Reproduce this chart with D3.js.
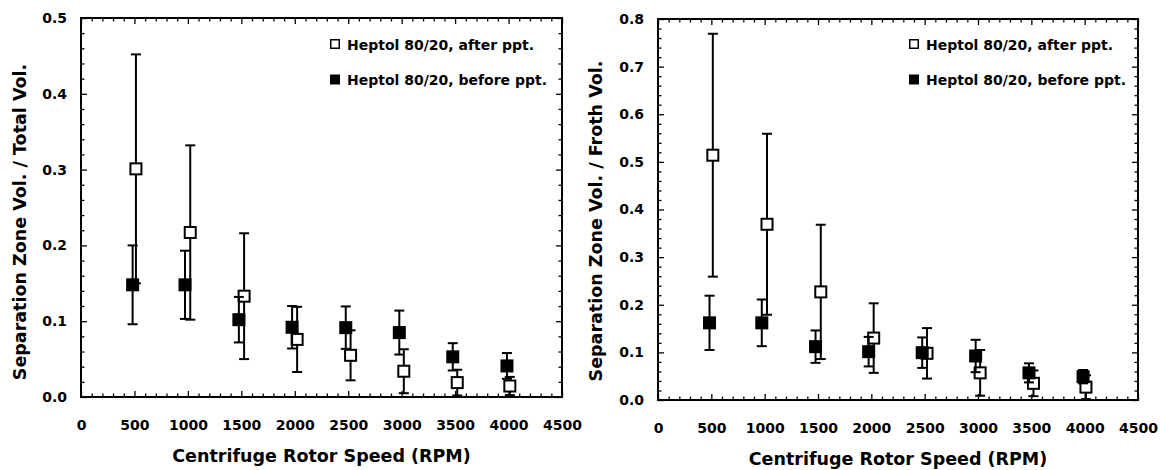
<!DOCTYPE html>
<html>
<head>
<meta charset="utf-8">
<script src="https://cdn.jsdelivr.net/npm/d3@7"></script>
<style>
  html, body { margin: 0; padding: 0; background: #fff; }
  svg text { font-family: "DejaVu Sans", sans-serif; font-weight: bold; fill: #000; }
</style>
</head>
<body>
<svg id="chart" width="1160" height="470"></svg>
<script>
// ---- Data ----
const xTicks = [0, 500, 1000, 1500, 2000, 2500, 3000, 3500, 4000, 4500];
const seriesNames = ["Heptol 80/20, after ppt.", "Heptol 80/20, before ppt."];

// rotor speeds as plotted (markers are slightly offset around the nominal speeds)
const speedAfter  = [514, 1022, 1526, 2022, 2522, 3020, 3520, 4012];
const speedBefore = [483, 973, 1477, 1975, 2477, 2978, 3478, 3985];

// Left panel: Separation Zone Vol. / Total Vol.
const totalAfter     = [0.301, 0.217, 0.133, 0.076, 0.055, 0.034, 0.019, 0.0145];
const totalAfterErr  = [0.151, 0.115, 0.083, 0.043, 0.033, 0.029, 0.017, 0.012];
const totalBefore    = [0.148, 0.148, 0.102, 0.092, 0.0915, 0.085, 0.053, 0.041];
const totalBeforeErr = [0.052, 0.045, 0.030, 0.028, 0.028, 0.029, 0.018, 0.017];
const totalYTicks    = [0.0, 0.1, 0.2, 0.3, 0.4, 0.5];

// Right panel: Separation Zone Vol. / Froth Vol.
const frothAfter     = [0.514, 0.369, 0.227, 0.130, 0.098, 0.057, 0.035, 0.027];
const frothAfterErr  = [0.255, 0.190, 0.141, 0.073, 0.053, 0.048, 0.027, 0.025];
const frothBefore    = [0.162, 0.162, 0.112, 0.1015, 0.0994, 0.0924, 0.057, 0.049];
const frothBeforeErr = [0.057, 0.049, 0.034, 0.031, 0.032, 0.034, 0.020, 0.014];
const frothYTicks    = [0.0, 0.1, 0.2, 0.3, 0.4, 0.5, 0.6, 0.7, 0.8];

const xTitle = "Centrifuge Rotor Speed (RPM)";

// ---- Layout ----
const panels = [
  { left: 81, top: 18, right: 562, bottom: 397, yMax: 0.5, yTicks: totalYTicks,
    yTitle: "Separation Zone Vol. / Total Vol.", yTitleX: 26, yTitleY: 222,
    after: totalAfter, afterErr: totalAfterErr, before: totalBefore, beforeErr: totalBeforeErr,
    legendX: 330, legendY: 44 },
  { left: 658, top: 19, right: 1138, bottom: 400, yMax: 0.8, yTicks: frothYTicks,
    yTitle: "Separation Zone Vol. / Froth Vol.", yTitleX: 602, yTitleY: 221,
    after: frothAfter, afterErr: frothAfterErr, before: frothBefore, beforeErr: frothBeforeErr,
    legendX: 909, legendY: 44 }
];

const svg = d3.select("#chart");
const MAJ = 6, MIN = 3.5, MARK = 13, CAP = 5;

panels.forEach(p => {
  const x = d3.scaleLinear().domain([0, 4500]).range([p.left, p.right]);
  const y = d3.scaleLinear().domain([0, p.yMax]).range([p.bottom, p.top]);
  const g = svg.append("g");

  const xMinor = d3.range(0, 4501, 100).filter(v => v % 500 !== 0);
  const yMinor = d3.range(0, Math.round(p.yMax / 0.02) + 1).map(i => +(i * 0.02).toFixed(2))
                  .filter(v => Math.abs(v * 10 - Math.round(v * 10)) > 1e-6);

  function styleAxis(sel) {
    sel.select(".domain").remove();
    sel.selectAll(".tick line").attr("stroke", "#000").attr("stroke-width", 1.3);
    sel.selectAll("text").style("font-size", "14px").attr("fill", "#000");
  }

  // bottom axis (major with labels)
  g.append("g").attr("transform", `translate(0,${p.bottom})`)
    .call(d3.axisBottom(x).tickValues(xTicks).tickSize(-MAJ).tickPadding(23).tickFormat(d3.format("d")))
    .call(styleAxis);
  g.append("g").attr("transform", `translate(0,${p.bottom})`)
    .call(d3.axisBottom(x).tickValues(xMinor).tickSize(-MIN).tickFormat(""))
    .call(styleAxis);
  // top axis
  g.append("g").attr("transform", `translate(0,${p.top})`)
    .call(d3.axisTop(x).tickValues(xTicks).tickSize(-MAJ).tickFormat(""))
    .call(styleAxis);
  g.append("g").attr("transform", `translate(0,${p.top})`)
    .call(d3.axisTop(x).tickValues(xMinor).tickSize(-MIN).tickFormat(""))
    .call(styleAxis);
  // left axis
  g.append("g").attr("transform", `translate(${p.left},0)`)
    .call(d3.axisLeft(y).tickValues(p.yTicks).tickSize(-MAJ).tickPadding(14).tickFormat(d3.format(".1f")))
    .call(styleAxis);
  g.append("g").attr("transform", `translate(${p.left},0)`)
    .call(d3.axisLeft(y).tickValues(yMinor).tickSize(-MIN).tickFormat(""))
    .call(styleAxis);
  // right axis
  g.append("g").attr("transform", `translate(${p.right},0)`)
    .call(d3.axisRight(y).tickValues(p.yTicks).tickSize(-MAJ).tickFormat(""))
    .call(styleAxis);
  g.append("g").attr("transform", `translate(${p.right},0)`)
    .call(d3.axisRight(y).tickValues(yMinor).tickSize(-MIN).tickFormat(""))
    .call(styleAxis);

  // frame
  g.append("rect")
    .attr("x", p.left).attr("y", p.top)
    .attr("width", p.right - p.left).attr("height", p.bottom - p.top)
    .attr("fill", "none").attr("stroke", "#000").attr("stroke-width", 2);

  // series drawing
  function drawSeries(xs, ys, es, filled) {
    const data = xs.map((xv, i) => ({ x: xv, y: ys[i], e: es[i] }));
    const sg = g.append("g");
    const eb = sg.selectAll("g.eb").data(data).join("g").attr("class", "eb")
      .attr("stroke", "#000").attr("stroke-width", 2);
    eb.append("line")
      .attr("x1", d => x(d.x)).attr("x2", d => x(d.x))
      .attr("y1", d => y(Math.max(0, d.y - d.e))).attr("y2", d => y(d.y + d.e));
    eb.append("line")
      .attr("x1", d => x(d.x) - CAP).attr("x2", d => x(d.x) + CAP)
      .attr("y1", d => y(d.y + d.e)).attr("y2", d => y(d.y + d.e));
    eb.append("line")
      .attr("x1", d => x(d.x) - CAP).attr("x2", d => x(d.x) + CAP)
      .attr("y1", d => y(Math.max(0, d.y - d.e))).attr("y2", d => y(Math.max(0, d.y - d.e)));
    if (filled) {
      sg.selectAll("rect.m").data(data).join("rect").attr("class", "m")
        .attr("x", d => x(d.x) - MARK / 2).attr("y", d => y(d.y) - MARK / 2)
        .attr("width", MARK).attr("height", MARK).attr("fill", "#000");
    } else {
      sg.selectAll("rect.m").data(data).join("rect").attr("class", "m")
        .attr("x", d => x(d.x) - (MARK - 2) / 2).attr("y", d => y(d.y) - (MARK - 2) / 2)
        .attr("width", MARK - 2).attr("height", MARK - 2)
        .attr("fill", "#fff").attr("stroke", "#000").attr("stroke-width", 2);
    }
  }
  drawSeries(speedAfter, p.after, p.afterErr, false);
  drawSeries(speedBefore, p.before, p.beforeErr, true);

  // legend
  const lg = g.append("g");
  seriesNames.forEach((name, i) => {
    const cy = p.legendY + i * 35.5;
    lg.append("rect")
      .attr("x", p.legendX + (i === 0 ? 0.75 : 0)).attr("y", cy - 5 + (i === 0 ? 0.75 : 0))
      .attr("width", i === 0 ? 8.5 : 10).attr("height", i === 0 ? 8.5 : 10)
      .attr("fill", i === 0 ? "#fff" : "#000")
      .attr("stroke", i === 0 ? "#000" : "none").attr("stroke-width", 1.5);
    lg.append("text")
      .attr("x", p.legendX + 17).attr("y", cy + 5.5)
      .style("font-size", "14px")
      .text(name);
  });

  // axis titles
  g.append("text")
    .attr("x", (p.left + p.right) / 2).attr("y", p.bottom + 65)
    .attr("text-anchor", "middle").style("font-size", "17.5px")
    .text(xTitle);
  g.append("text")
    .attr("transform", `translate(${p.yTitleX},${p.yTitleY}) rotate(-90)`)
    .attr("text-anchor", "middle").style("font-size", "17.5px")
    .text(p.yTitle);
});
</script>
</body>
</html>
